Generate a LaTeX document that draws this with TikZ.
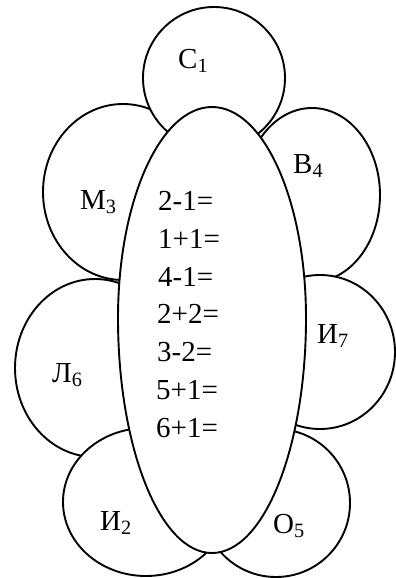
\documentclass[tikz,border=0pt]{standalone}
\usepackage{fontspec}
\setmainfont{Liberation Serif}
\tikzset{
  petal/.style={draw=black, fill=white, line width=1.9pt},
  lbl/.style={anchor=base west, inner sep=0pt, font=\fontsize{29}{31}\selectfont},
  eq/.style={anchor=base west, inner sep=0pt, font=\fontsize{29}{31}\selectfont},
}
\newcommand{\lowsub}[1]{\textsubscript{#1}}
\begin{document}
\begin{tikzpicture}[x=1pt,y=1pt]
\useasboundingbox[fill=white] (0,0) rectangle (396,-578);
% back petals
\draw[petal] (123,-192) ellipse [x radius=80, y radius=88];   % M3
\draw[petal] (312,-195) ellipse [x radius=68, y radius=87];   % B4
\draw[petal] (95,-368) ellipse [x radius=80, y radius=89];    % L6
\draw[petal] (320,-352) ellipse [x radius=75, y radius=77];   % I7
\draw[petal] (214,-78) circle [radius=71];                    % C1
\draw[petal] (146,-502) ellipse [x radius=83, y radius=74];   % I2
\draw[petal] (276,-503) ellipse [x radius=74, y radius=74];   % O5
% centre
\draw[petal] (306,-318) arc[start angle=0, end angle=180, x radius=94, y radius=211]
  arc[start angle=180, end angle=360, x radius=94, y radius=235] -- cycle;
% petal labels
\node[lbl] (c1) at (178,-68) {С\lowsub{1}};
\node[lbl] (m3) at (80,-209) {М\lowsub{3}};
\node[lbl] (b4) at (293,-173) {В\lowsub{4}};
\node[lbl] (i7) at (317,-343) {И\lowsub{7}};
\node[lbl] (l6) at (52,-382) {Л\lowsub{6}};
\node[lbl] (i2) at (100,-530) {И\lowsub{2}};
\node[lbl] (o5) at (273,-533) {О\lowsub{5}};
% equations
\node[eq] (e1) at (158,-210) {2-1=};
\node[eq] (e2) at (158,-248) {1+1=};
\node[eq] (e3) at (158,-286) {4-1=};
\node[eq] (e4) at (157,-323) {2+2=};
\node[eq] (e5) at (157,-361) {3-2=};
\node[eq] (e6) at (156,-399) {5+1=};
\node[eq] (e7) at (156,-437) {6+1=};
\end{tikzpicture}
\end{document}
